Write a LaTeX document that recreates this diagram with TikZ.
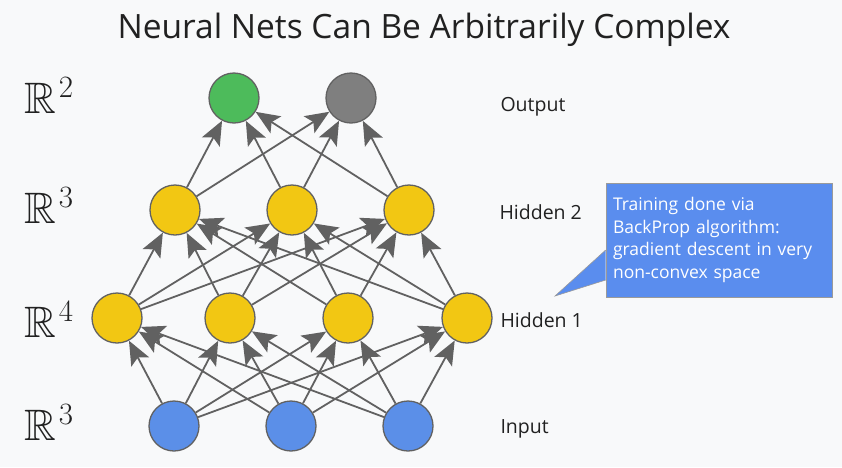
\documentclass[tikz,border=0pt]{standalone}
\usepackage{amssymb}
\usepackage{fontspec}
\setmainfont{Open Sans}
\usetikzlibrary{arrows.meta}
\definecolor{bgcol}{HTML}{F8F9FA}
\definecolor{textcol}{HTML}{212121}
\definecolor{edgecol}{HTML}{616161}
\definecolor{outgreen}{HTML}{4DBB5B}
\definecolor{outgray}{HTML}{7F7F7F}
\definecolor{hidyellow}{HTML}{F2C713}
\definecolor{inblue}{HTML}{5B8FE8}
\definecolor{noteblue}{HTML}{5A8DEE}
\definecolor{notegray}{HTML}{9A9A9A}
\newcommand{\dimlabel}[1]{$\mathbb{R}$\hspace{3pt}\raisebox{16pt}{\fontfamily{lmr}\fontsize{31}{33}\selectfont #1}}

\begin{document}
\begin{tikzpicture}[x=1pt, y=-1pt]
    \tikzstyle{unit} = [circle, draw=edgecol, line width=1.3pt, minimum size=50pt, inner sep=0pt]
    \tikzstyle{layer} = [anchor=base west, text=textcol, font=\fontsize{19.5}{22}\selectfont]
    \tikzstyle{dim} = [anchor=base west, text=textcol, inner sep=0pt, font=\fontsize{44}{50}\selectfont]
    \tikzstyle{link} = [draw=edgecol, line width=1.8pt, arrows={-Stealth[length=24pt, width=20pt, inset=5pt]}]
  \fill[bgcol] (0,0) rectangle (842,467);
  \useasboundingbox (0,0) rectangle (842,467);
  \node[anchor=base, text=textcol, font=\fontsize{33.5}{40}\selectfont](title) at (424,38){Neural Nets Can Be Arbitrarily Complex};
  % units
  \node[unit, fill=outgreen](out1) at (234,98){};
  \node[unit, fill=outgray](out2) at (351,98){};
  \node[unit, fill=hidyellow](hidb1) at (175,210){};
  \node[unit, fill=hidyellow](hidb2) at (292,210){};
  \node[unit, fill=hidyellow](hidb3) at (409,210){};
  \node[unit, fill=hidyellow](hida1) at (117,318){};
  \node[unit, fill=hidyellow](hida2) at (230,318){};
  \node[unit, fill=hidyellow](hida3) at (348,318){};
  \node[unit, fill=hidyellow](hida4) at (467,318){};
  \node[unit, fill=inblue](in1) at (174,426){};
  \node[unit, fill=inblue](in2) at (291,426){};
  \node[unit, fill=inblue](in3) at (408,426){};
  % labels
  \node[dim](dout) at (24,113){\dimlabel{2}};
  \node[dim](dhidb) at (24,223){\dimlabel{3}};
  \node[dim](dhida) at (24,337){\dimlabel{4}};
  \node[dim](din) at (24,440){\dimlabel{3}};
  \node[layer](lout) at (497,111){Output};
  \node[layer](lhidb) at (496,219){Hidden 2};
  \node[layer](lhida) at (497,327){Hidden 1};
  \node[layer](lin) at (497,433){Input};
  % input -> hidden 1
  \draw[link] (in1) -- (hida1);
  \draw[link] (in1) -- (hida2);
  \draw[link] (in1) -- (hida3);
  \draw[link] (in1) -- (hida4);
  \draw[link] (in2) -- (hida1);
  \draw[link] (in2) -- (hida2);
  \draw[link] (in2) -- (hida3);
  \draw[link] (in2) -- (hida4);
  \draw[link] (in3) -- (hida1);
  \draw[link] (in3) -- (hida2);
  \draw[link] (in3) -- (hida3);
  \draw[link] (in3) -- (hida4);
  % hidden 1 -> hidden 2
  \draw[link] (hida1) -- (hidb1);
  \draw[link] (hida1) -- (hidb2);
  \draw[link] (hida1) -- (hidb3);
  \draw[link] (hida2) -- (hidb1);
  \draw[link] (hida2) -- (hidb2);
  \draw[link] (hida2) -- (hidb3);
  \draw[link] (hida3) -- (hidb1);
  \draw[link] (hida3) -- (hidb2);
  \draw[link] (hida3) -- (hidb3);
  \draw[link] (hida4) -- (hidb1);
  \draw[link] (hida4) -- (hidb2);
  \draw[link] (hida4) -- (hidb3);
  % hidden 2 -> output
  \draw[link] (hidb1) -- (out1);
  \draw[link] (hidb1) -- (out2);
  \draw[link] (hidb2) -- (out1);
  \draw[link] (hidb2) -- (out2);
  \draw[link] (hidb3) -- (out1);
  \draw[link] (hidb3) -- (out2);
  % callout
  \node[rectangle, draw=notegray, line width=0.6pt, fill=noteblue, minimum width=226pt, minimum height=114pt,
        text width=212pt, align=left, text=white, font=\fontsize{17.5}{22.5}\selectfont](note) at (719,240)
        {Training done via\\BackProp algorithm:\\gradient descent in very\\non-convex space};
  \coordinate (tip) at (555,296);
  \fill[noteblue] ([yshift=-10pt]note.west) -- (tip) -- ([yshift=-40pt]note.west) -- cycle;
  \draw[notegray, line width=0.6pt] ([yshift=-10pt]note.west) -- (tip) -- ([yshift=-40pt]note.west);
\end{tikzpicture}
\end{document}
